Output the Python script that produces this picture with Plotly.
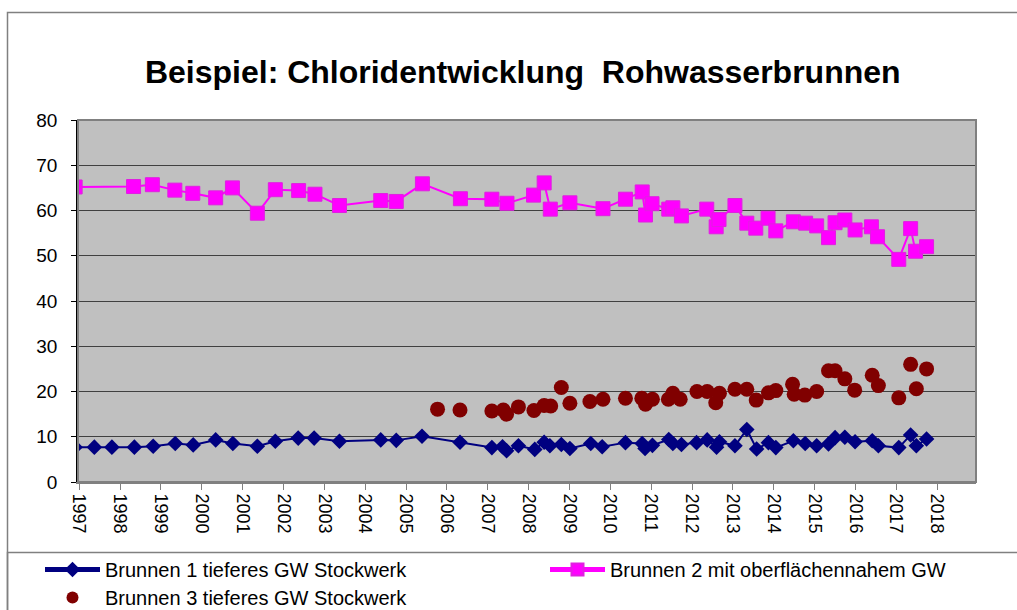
import plotly.graph_objects as go

# ---- data (decimal years) ----
b1_x = [1996.9, 1997.37, 1997.80, 1998.35, 1998.81, 1999.35, 1999.79, 2000.34, 2000.76, 2001.36,
        2001.80, 2002.36, 2002.75, 2003.37, 2004.38, 2004.76, 2005.39, 2006.32, 2007.10, 2007.36,
        2007.46, 2007.75, 2008.15, 2008.38, 2008.52, 2008.80, 2009.01, 2009.52, 2009.80, 2010.37,
        2010.78, 2010.85, 2011.03, 2011.43, 2011.53, 2011.74, 2012.11, 2012.37, 2012.60, 2012.67,
        2013.05, 2013.34, 2013.58, 2013.87, 2014.05, 2014.48, 2014.77, 2015.05, 2015.34, 2015.50,
        2015.74, 2015.99, 2016.41, 2016.56, 2017.06, 2017.35, 2017.49, 2017.74]
b1_y = [7.7, 7.7, 7.7, 7.7, 7.9, 8.5, 8.2, 9.3, 8.5, 7.9,
        9.0, 9.7, 9.7, 9.0, 9.3, 9.2, 10.1, 8.8, 7.6, 7.8,
        6.9, 8.0, 7.2, 8.8, 8.0, 8.3, 7.4, 8.5, 7.8, 8.7,
        8.5, 7.4, 8.1, 9.4, 8.5, 8.3, 8.7, 9.3, 7.7, 8.9,
        8.0, 11.6, 7.3, 8.7, 7.6, 9.1, 8.5, 8.0, 8.4, 9.8,
        9.9, 8.9, 9.1, 8.0, 7.6, 10.4, 8.0, 9.5]

b2_x = [1996.9, 1998.33, 1998.79, 1999.34, 1999.78, 2000.34, 2000.75, 2001.36, 2001.80, 2002.37,
        2002.77, 2003.37, 2004.38, 2004.76, 2005.40, 2006.33, 2007.10, 2007.47, 2008.12, 2008.38,
        2008.53, 2009.01, 2009.82, 2010.37, 2010.78, 2010.86, 2011.02, 2011.43, 2011.53, 2011.74,
        2012.36, 2012.59, 2012.66, 2013.05, 2013.34, 2013.56, 2013.86, 2014.05, 2014.48, 2014.78,
        2015.05, 2015.34, 2015.50, 2015.74, 2015.99, 2016.39, 2016.54, 2017.06, 2017.35, 2017.47,
        2017.74]
b2_y = [65.2, 65.3, 65.7, 64.5, 63.8, 62.8, 65.0, 59.4, 64.6, 64.4,
        63.6, 61.1, 62.2, 62.0, 65.9, 62.6, 62.5, 61.6, 63.4, 66.1,
        60.3, 61.7, 60.4, 62.5, 64.1, 59.0, 61.5, 60.3, 60.6, 58.8,
        60.3, 56.4, 58.0, 61.1, 57.2, 56.1, 58.3, 55.5, 57.5, 57.2,
        56.6, 54.0, 57.3, 57.9, 55.7, 56.4, 54.2, 49.2, 56.0, 51.0,
        52.0]

b3_x = [2005.77, 2006.32, 2007.10, 2007.38, 2007.46, 2007.75, 2008.13, 2008.38, 2008.54, 2008.80,
        2009.01, 2009.50, 2009.82, 2010.37, 2010.77, 2010.86, 2011.03, 2011.42, 2011.53, 2011.71,
        2012.12, 2012.37, 2012.58, 2012.67, 2013.05, 2013.34, 2013.57, 2013.87, 2014.05, 2014.46,
        2014.50, 2014.76, 2015.05, 2015.34, 2015.50, 2015.74, 2015.98, 2016.41, 2016.56, 2017.06,
        2017.35, 2017.49, 2017.74]
b3_y = [16.1, 15.9, 15.7, 15.9, 15.0, 16.6, 15.8, 16.9, 16.8, 20.9,
        17.4, 17.8, 18.3, 18.5, 18.5, 17.2, 18.3, 18.3, 19.6, 18.3,
        20.0, 20.0, 17.5, 19.6, 20.5, 20.5, 18.1, 19.7, 20.2, 21.6,
        19.4, 19.2, 20.0, 24.6, 24.6, 22.8, 20.3, 23.6, 21.3, 18.6,
        26.0, 20.6, 25.0]

year_ticks = list(range(1997, 2019))
year_labels = [str(y) for y in year_ticks]

names = ["Brunnen 1 tieferes GW Stockwerk",
         "Brunnen 2 mit oberflächennahem GW",
         "Brunnen 3 tieferes GW Stockwerk"]

FONT = "Liberation Sans, Arial, sans-serif"

fig = go.Figure()
fig.add_trace(go.Scatter(
    x=b1_x, y=b1_y, name=names[0], mode="lines+markers",
    line=dict(color="#000080", width=2),
    marker=dict(symbol="diamond", size=12, color="#000080"),
    legend="legend", showlegend=True))
fig.add_trace(go.Scatter(
    x=b2_x, y=b2_y, name=names[1], mode="lines+markers",
    line=dict(color="#FF00FF", width=2),
    marker=dict(symbol="square", size=14, color="#FF00FF",
                line=dict(color="#E020E0", width=1)),
    legend="legend3", showlegend=True))
fig.add_trace(go.Scatter(
    x=b3_x, y=b3_y, name=names[2], mode="markers",
    marker=dict(symbol="circle", size=15, color="#800000"),
    legend="legend2", showlegend=True))

L, R, T, B = 78, 41, 120, 128
W, H = 1017, 610
pw, ph = W - L - R, H - T - B

def px2x(px):
    return (px - L) / pw

def px2y(py):
    return (H - B - py) / ph

def leg(xpx, ypx):
    return dict(orientation="h", x=px2x(xpx), xanchor="left",
                y=px2y(ypx), yanchor="top", itemwidth=55,
                itemsizing="constant",
                font=dict(size=20, family=FONT), bgcolor="rgba(0,0,0,0)")

fig.update_layout(
    width=W, height=H,
    showlegend=True,
    margin=dict(l=L, r=R, t=T, b=B, autoexpand=False),
    paper_bgcolor="white",
    plot_bgcolor="#C0C0C0",
    font=dict(family=FONT, color="black", size=18),
    title=dict(text="<b>Beispiel: Chloridentwicklung  Rohwasserbrunnen</b>",
               x=0.514, xanchor="center", y=1 - 72 / H, yanchor="middle",
               font=dict(size=32, family=FONT, color="black")),
    xaxis=dict(range=[1996.97, 2018.95], tickmode="array",
               tickvals=year_ticks, ticktext=year_labels, tickangle=90,
               showgrid=False, zeroline=False,
               ticks="outside", ticklen=6, tickcolor="#808080",
               showline=True, linecolor="#808080", linewidth=2,
               tickfont=dict(size=18)),
    yaxis=dict(range=[0, 80], dtick=10, showgrid=True, gridcolor="#404040",
               gridwidth=1, zeroline=False,
               ticks="outside", ticklen=5, tickcolor="black",
               showline=True, linecolor="black", linewidth=1.5,
               ticklabelstandoff=10, tickfont=dict(size=19)),
    legend=leg(40, 550),
    legend3=leg(545, 550),
    legend2=leg(40, 578),
    shapes=[
        # outer chart border
        dict(type="rect", xref="paper", yref="paper",
             x0=px2x(7.5), x1=px2x(1030), y0=px2y(625), y1=px2y(12.5),
             line=dict(color="#808080", width=1.5), layer="below"),
        # legend box
        dict(type="rect", xref="paper", yref="paper",
             x0=px2x(7.5), x1=px2x(1030), y0=px2y(625), y1=px2y(552.5),
             line=dict(color="#808080", width=1.5), layer="below"),
        # plot area frame (top/right)
        dict(type="rect", xref="paper", yref="paper",
             x0=0, x1=1, y0=0, y1=1,
             line=dict(color="#808080", width=2), layer="above"),
    ],
)

fig.write_html("out.html", config={"displayModeBar": False},
               post_script="document.body.style.margin='0';")
